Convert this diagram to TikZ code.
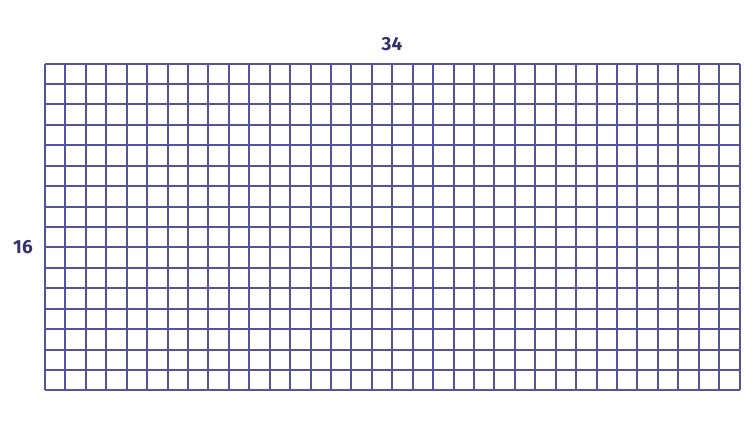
\documentclass[tikz,border=0pt]{standalone}
\usepackage{fontspec}
\usepackage{tikz}
\usetikzlibrary{calc,positioning}
\setsansfont{Fira Sans}
\definecolor{grdblue}{RGB}{86,82,155}
\definecolor{grdtext}{RGB}{52,50,110}
\tikzset{
  grdline/.style={draw=grdblue, line width=2pt},
  grdlabel/.style={text=grdtext, font=\sffamily\bfseries\fontsize{19}{21}\selectfont, inner sep=0pt}
}

\begin{document}
\begin{tikzpicture}[x=1pt, y=-1pt]
  \useasboundingbox (0,0) rectangle (753,445);
  \coordinate (gridtl) at (45,63.5);
  \coordinate (gridbr) at (739.6,390.4);
  % 34 by 16 cells
  \foreach \i in {0,...,34}
    \draw[grdline] ($(gridtl)+(\i*20.43,0)$) -- ++(0,326.9);
  \foreach \j in {0,...,16}
    \draw[grdline] ($(gridtl)+(0,\j*20.43)$) -- ++(694.6,0);
  \node[grdlabel] (cols) at (392,44) {34};
  \node[grdlabel] (rows) at (23,247) {16};
\end{tikzpicture}
\end{document}
